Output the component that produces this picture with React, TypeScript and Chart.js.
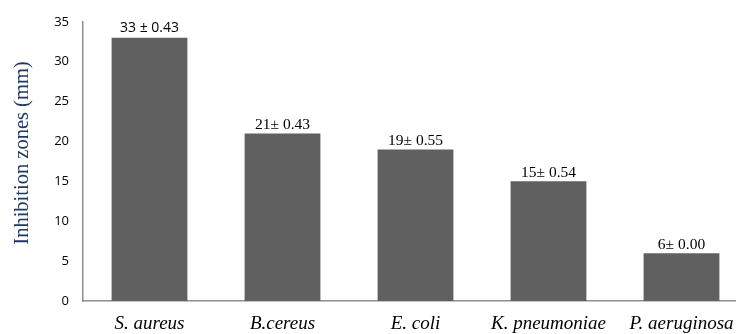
import React, { useEffect, useRef } from "react";
import { Chart, registerables } from "chart.js";

Chart.register(...registerables);

const categories = ["S. aureus", "B.cereus", "E. coli", "K. pneumoniae", "P. aeruginosa"];
const zoneValues = [33, 21, 19, 15, 6];
const valueLabels = ["33 ± 0.43", "21± 0.43", "19± 0.55", "15± 0.54", "6± 0.00"];
const labelFonts = ["sans", "serif", "serif", "serif", "serif"];
const yTicks = [0, 5, 10, 15, 20, 25, 30, 35];
const yTitle = "Inhibition zones (mm)";

const labelPlugin = {
  id: "valueLabels",
  afterDatasetsDraw(chart: any) {
    const ctx = chart.ctx;
    const meta = chart.getDatasetMeta(0);
    ctx.save();
    ctx.fillStyle = "#000";
    ctx.textAlign = "center";
    ctx.textBaseline = "alphabetic";
    meta.data.forEach((bar: any, i: number) => {
      const sans = labelFonts[i] === "sans";
      ctx.font = sans ? "14px 'Open Sans'" : "15.5px 'Liberation Serif'";
      ctx.fillText(valueLabels[i], bar.x, bar.y - (sans ? 6 : 4));
    });
    // y axis title
    const area = chart.chartArea;
    ctx.translate(23, 153);
    ctx.rotate(-Math.PI / 2);
    ctx.fillStyle = "#1F3864";
    ctx.font = "20.5px 'Liberation Serif'";
    ctx.textBaseline = "middle";
    ctx.fillText(yTitle, 0, 0);
    ctx.restore();
  },
};

export default function App() {
  const ref = useRef<HTMLCanvasElement>(null);
  useEffect(() => {
    document.body.style.margin = "0";
    document.body.style.overflow = "hidden";
    if (!ref.current) return;
    const chart = new Chart(ref.current, {
      type: "bar",
      data: {
        labels: categories,
        datasets: [
          {
            data: zoneValues,
            backgroundColor: "#606060",
            borderWidth: 0,
            categoryPercentage: 1,
            barPercentage: 0.57,
          },
        ],
      },
      options: {
        animation: false,
        responsive: false,
        maintainAspectRatio: false,
        layout: { padding: { top: 21, right: 12, left: 0, bottom: 0 } },
        plugins: { legend: { display: false }, tooltip: { enabled: false }, title: { display: false } },
        scales: {
          x: {
            grid: { display: false, drawTicks: false },
            border: { display: true, color: "#8e8e8e", width: 1.5 },
            ticks: {
              color: "#000",
              padding: 12,
              font: { family: "'Liberation Serif'", size: 19, style: "italic" },
              maxRotation: 0,
              autoSkip: false,
            },
            afterFit(scale: any) {
              scale.height = 33;
            },
          },
          y: {
            min: 0,
            max: 35,
            afterBuildTicks(scale: any) {
              scale.ticks = yTicks.map((v) => ({ value: v }));
            },
            grid: { display: false, drawTicks: false },
            border: { display: true, color: "#8e8e8e", width: 1.5 },
            ticks: {
              color: "#000",
              padding: 14,
              font: { family: "'Open Sans'", size: 13 },
            },
            afterFit(scale: any) {
              scale.width = 83;
            },
          },
        },
      },
      plugins: [labelPlugin],
    });
    return () => chart.destroy();
  }, []);
  return (
    <div style={{ width: 736, height: 334, overflow: "hidden", position: "relative" }}>
      <canvas ref={ref} width={760} height={334} style={{ display: "block", width: 760, height: 334 }} />
    </div>
  );
}
